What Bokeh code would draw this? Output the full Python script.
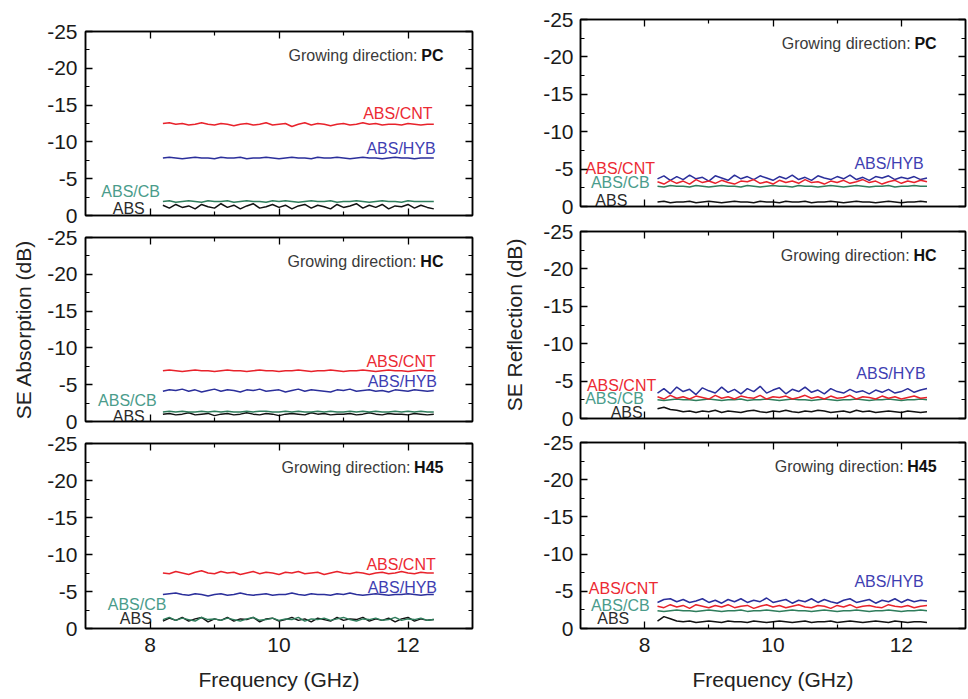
from bokeh.plotting import figure
from bokeh.layouts import row, column
from bokeh.models import Range1d, LinearAxis, FixedTicker, PrintfTickFormatter
from bokeh.core.properties import value
from bokeh.embed import file_html
from bokeh.resources import INLINE

# ---------------- data ----------------
FREQ = [8.2, 8.3, 8.4, 8.5, 8.6, 8.7, 8.8, 8.9, 9.0, 9.1,
        9.2, 9.3, 9.4, 9.5, 9.6, 9.7, 9.8, 9.9, 10.0, 10.1,
        10.2, 10.3, 10.4, 10.5, 10.6, 10.7, 10.8, 10.9, 11.0, 11.1,
        11.2, 11.3, 11.4, 11.5, 11.6, 11.7, 11.8, 11.9, 12.0, 12.1,
        12.2, 12.3, 12.4]

SERIES = ["ABS", "ABS/CB", "ABS/HYB", "ABS/CNT"]
DIRECTIONS = ["PC", "HC", "H45"]
Y_TICKS = [-25, -20, -15, -10, -5, 0]
Y_MINOR = [-22.5, -17.5, -12.5, -7.5, -2.5]
X_TICKS = [8, 10, 12]
X_MINOR = [9, 11]

# SE Absorption
A_PC_ABS = [-1.4, -1.0, -1.5, -1.1, -1.3, -0.9, -1.5, -1.2, -1.0, -1.6,
            -1.1, -1.4, -0.9, -1.3, -1.6, -1.0, -1.2, -1.5, -1.1, -1.4,
            -0.9, -1.3, -1.5, -1.0, -1.4, -1.2, -0.9, -1.5, -1.1, -1.3,
            -1.6, -1.0, -1.4, -1.1, -1.5, -0.9, -1.3, -1.2, -1.5, -1.0,
            -1.4, -1.1, -0.9]
A_PC_CB = [-1.9, -2.0, -1.8, -1.9, -2.0, -1.9, -1.8, -2.0, -1.9, -1.9,
           -2.0, -1.8, -1.9, -2.0, -1.9, -1.9, -1.8, -2.0, -1.9, -2.0,
           -1.9, -1.8, -1.9, -2.0, -1.9, -1.9, -2.0, -1.8, -1.9, -1.9,
           -2.0, -1.9, -1.8, -1.9, -2.0, -1.9, -1.9, -1.8, -2.0, -1.9,
           -1.9, -1.9, -1.9]
A_PC_HYB = [-7.8, -7.9, -7.8, -7.7, -7.8, -7.9, -7.8, -7.8, -7.7, -7.9,
            -7.8, -7.8, -7.9, -7.7, -7.8, -7.8, -7.9, -7.8, -7.7, -7.8,
            -7.9, -7.8, -7.8, -7.7, -7.9, -7.8, -7.8, -7.9, -7.8, -7.7,
            -7.8, -7.9, -7.8, -7.8, -7.7, -7.8, -7.9, -7.8, -7.8, -7.7,
            -7.8, -7.8, -7.8]
A_PC_CNT = [-12.5, -12.6, -12.4, -12.5, -12.3, -12.4, -12.6, -12.4, -12.3, -12.5,
            -12.4, -12.2, -12.4, -12.5, -12.3, -12.4, -12.6, -12.3, -12.4, -12.5,
            -12.1, -12.4, -12.6, -12.3, -12.5, -12.4, -12.2, -12.4, -12.5, -12.3,
            -12.4, -12.6, -12.4, -12.5, -12.3, -12.4, -12.4, -12.3, -12.5, -12.4,
            -12.3, -12.4, -12.4]

A_HC_ABS = [-1.0, -1.1, -0.9, -1.0, -1.2, -0.9, -1.0, -1.1, -0.8, -1.0,
            -1.1, -0.9, -1.0, -1.2, -1.0, -0.9, -1.1, -1.0, -0.8, -1.0,
            -1.1, -1.0, -0.9, -1.2, -1.0, -1.1, -0.9, -1.0, -1.0, -1.1,
            -0.9, -1.0, -1.2, -1.0, -0.9, -1.1, -1.0, -1.0, -0.9, -1.1,
            -1.0, -0.9, -1.0]
A_HC_CB = [-1.3, -1.4, -1.3, -1.4, -1.3, -1.3, -1.4, -1.3, -1.4, -1.3,
           -1.4, -1.3, -1.3, -1.4, -1.3, -1.4, -1.4, -1.3, -1.3, -1.4,
           -1.3, -1.4, -1.3, -1.3, -1.4, -1.3, -1.4, -1.3, -1.3, -1.4,
           -1.3, -1.4, -1.3, -1.4, -1.3, -1.3, -1.4, -1.3, -1.4, -1.3,
           -1.4, -1.3, -1.3]
A_HC_HYB = [-4.1, -4.3, -4.2, -4.4, -4.1, -4.3, -4.0, -4.2, -4.4, -4.1,
            -4.3, -4.2, -4.0, -4.3, -4.2, -4.4, -4.1, -4.2, -4.3, -4.0,
            -4.2, -4.4, -4.1, -4.3, -4.2, -4.1, -4.0, -4.3, -4.2, -4.4,
            -4.1, -4.2, -4.3, -4.1, -4.2, -4.0, -4.3, -4.2, -4.1, -4.3,
            -4.2, -4.1, -4.2]
A_HC_CNT = [-6.9, -7.0, -6.9, -6.8, -6.9, -7.0, -6.9, -6.9, -6.8, -6.9,
            -7.0, -6.9, -6.9, -6.8, -6.9, -7.0, -6.9, -6.9, -6.8, -6.9,
            -6.9, -7.0, -6.9, -6.8, -6.9, -6.9, -7.0, -6.9, -6.8, -6.9,
            -6.9, -7.0, -6.9, -6.8, -6.9, -7.0, -6.9, -6.9, -6.8, -6.9,
            -7.0, -6.9, -6.9]

A_H45_ABS = [-1.0, -1.4, -1.1, -1.5, -1.0, -1.3, -1.5, -0.9, -1.3, -1.1,
             -1.5, -1.0, -1.3, -1.2, -1.5, -0.9, -1.3, -1.4, -1.0, -1.2,
             -1.5, -1.1, -1.3, -0.9, -1.4, -1.2, -1.0, -1.5, -1.1, -1.3,
             -1.2, -1.5, -1.0, -1.3, -1.1, -1.4, -0.9, -1.3, -1.5, -1.0,
             -1.3, -1.1, -1.2]
A_H45_CB = [-1.2, -1.5, -1.1, -1.4, -1.2, -1.0, -1.5, -1.2, -1.3, -1.1,
            -1.4, -1.2, -1.0, -1.3, -1.5, -1.1, -1.2, -1.4, -1.1, -1.3,
            -1.2, -1.5, -1.0, -1.3, -1.2, -1.4, -1.1, -1.3, -1.5, -1.2,
            -1.0, -1.3, -1.2, -1.4, -1.1, -1.2, -1.5, -1.1, -1.3, -1.2,
            -1.4, -1.1, -1.2]
A_H45_HYB = [-4.6, -4.7, -4.8, -4.6, -4.5, -4.7, -4.6, -4.4, -4.6, -4.7,
             -4.5, -4.6, -4.8, -4.6, -4.5, -4.6, -4.7, -4.5, -4.6, -4.6,
             -4.8, -4.6, -4.5, -4.7, -4.6, -4.6, -4.5, -4.7, -4.6, -4.8,
             -4.6, -4.5, -4.6, -4.7, -4.6, -4.5, -4.6, -4.6, -4.7, -4.6,
             -4.5, -4.6, -4.6]
A_H45_CNT = [-7.5, -7.4, -7.7, -7.5, -7.3, -7.6, -7.8, -7.5, -7.4, -7.7,
             -7.5, -7.6, -7.3, -7.5, -7.7, -7.4, -7.6, -7.5, -7.3, -7.6,
             -7.5, -7.7, -7.4, -7.5, -7.6, -7.3, -7.5, -7.7, -7.5, -7.4,
             -7.6, -7.5, -7.3, -7.5, -7.6, -7.4, -7.5, -7.7, -7.5, -7.4,
             -7.6, -7.5, -7.5]

# SE Reflection
R_PC_ABS = [-0.6, -0.7, -0.5, -0.6, -0.6, -0.7, -0.5, -0.6, -0.7, -0.6,
            -0.5, -0.6, -0.7, -0.6, -0.6, -0.5, -0.7, -0.6, -0.6, -0.5,
            -0.7, -0.6, -0.6, -0.7, -0.5, -0.6, -0.6, -0.7, -0.6, -0.5,
            -0.6, -0.7, -0.6, -0.6, -0.5, -0.6, -0.7, -0.6, -0.5, -0.6,
            -0.6, -0.7, -0.6]
R_PC_CB = [-2.7, -2.6, -2.8, -2.7, -2.7, -2.6, -2.8, -2.7, -2.6, -2.7,
           -2.8, -2.7, -2.7, -2.6, -2.8, -2.7, -2.6, -2.7, -2.8, -2.7,
           -2.7, -2.6, -2.8, -2.7, -2.7, -2.6, -2.7, -2.8, -2.7, -2.6,
           -2.7, -2.8, -2.7, -2.6, -2.7, -2.7, -2.8, -2.6, -2.7, -2.7,
           -2.8, -2.7, -2.7]
R_PC_HYB = [-3.7, -4.1, -3.5, -4.0, -3.6, -4.2, -3.7, -3.9, -3.4, -4.1,
            -3.8, -3.5, -4.2, -3.7, -4.0, -3.6, -4.1, -3.8, -3.5, -4.0,
            -3.7, -4.2, -3.6, -3.9, -3.5, -4.1, -3.8, -3.6, -4.0, -3.7,
            -4.2, -3.6, -3.9, -3.5, -4.0, -3.8, -4.1, -3.6, -3.9, -3.7,
            -4.0, -3.6, -3.8]
R_PC_CNT = [-3.3, -3.0, -3.5, -3.1, -3.4, -3.0, -3.6, -3.2, -3.4, -3.1,
            -3.5, -3.2, -3.0, -3.4, -3.3, -3.6, -3.1, -3.3, -3.0, -3.5,
            -3.2, -3.4, -3.1, -3.6, -3.2, -3.3, -3.0, -3.4, -3.2, -3.5,
            -3.1, -3.3, -3.6, -3.2, -3.4, -3.0, -3.3, -3.5, -3.1, -3.4,
            -3.2, -3.5, -3.3]

R_HC_ABS = [-1.3, -1.5, -1.2, -1.1, -0.9, -1.0, -0.8, -1.0, -0.9, -1.1,
            -0.8, -1.0, -0.9, -0.8, -1.0, -1.1, -0.9, -0.8, -1.0, -0.9,
            -1.1, -0.9, -0.8, -1.0, -0.9, -1.1, -1.0, -0.8, -0.9, -1.0,
            -0.8, -1.1, -0.9, -1.0, -0.8, -0.9, -1.0, -0.9, -0.8, -1.0,
            -0.9, -0.8, -0.9]
R_HC_CB = [-2.5, -2.4, -2.5, -2.6, -2.5, -2.5, -2.4, -2.5, -2.6, -2.5,
           -2.4, -2.5, -2.5, -2.6, -2.4, -2.5, -2.5, -2.6, -2.5, -2.4,
           -2.5, -2.6, -2.5, -2.5, -2.4, -2.5, -2.6, -2.5, -2.4, -2.5,
           -2.5, -2.6, -2.5, -2.4, -2.5, -2.5, -2.6, -2.5, -2.4, -2.5,
           -2.5, -2.6, -2.5]
R_HC_HYB = [-3.4, -4.0, -3.3, -4.2, -3.6, -3.9, -3.2, -4.1, -3.7, -3.4,
            -4.2, -3.5, -3.9, -3.3, -4.0, -3.6, -4.3, -3.4, -3.8, -4.1,
            -3.3, -3.9, -3.6, -4.2, -3.5, -3.8, -3.3, -4.0, -3.6, -3.4,
            -3.9, -3.5, -3.7, -3.3, -3.8, -3.5, -3.9, -3.4, -3.6, -4.0,
            -3.5, -3.8, -4.0]
R_HC_CNT = [-2.9, -2.6, -3.1, -2.7, -2.9, -2.6, -3.0, -2.8, -2.6, -3.1,
            -2.7, -2.9, -2.6, -3.0, -2.8, -2.7, -3.1, -2.6, -2.9, -2.8,
            -3.0, -2.6, -2.8, -3.1, -2.7, -2.9, -2.6, -3.0, -2.7, -2.8,
            -3.1, -2.6, -2.9, -2.8, -2.6, -3.0, -2.7, -2.9, -2.6, -2.8,
            -3.0, -2.7, -2.8]

R_H45_ABS = [-1.0, -1.6, -1.3, -1.0, -0.9, -1.0, -0.8, -0.9, -1.0, -0.9,
             -0.8, -1.0, -0.9, -0.9, -0.8, -1.0, -0.9, -0.8, -0.9, -1.0,
             -0.9, -0.8, -0.9, -1.0, -0.8, -0.9, -0.9, -1.0, -0.8, -0.9,
             -1.0, -0.9, -0.8, -0.9, -1.0, -0.9, -0.8, -1.0, -0.9, -0.8,
             -0.9, -0.9, -0.8]
R_H45_CB = [-2.4, -2.3, -2.4, -2.5, -2.4, -2.4, -2.3, -2.4, -2.5, -2.4,
            -2.3, -2.4, -2.4, -2.5, -2.3, -2.4, -2.4, -2.5, -2.4, -2.3,
            -2.4, -2.5, -2.4, -2.4, -2.3, -2.4, -2.5, -2.4, -2.3, -2.4,
            -2.4, -2.5, -2.4, -2.3, -2.4, -2.4, -2.5, -2.4, -2.3, -2.4,
            -2.4, -2.5, -2.4]
R_H45_HYB = [-3.5, -3.9, -4.0, -3.6, -3.9, -3.5, -3.7, -4.0, -3.5, -3.8,
             -3.4, -3.9, -3.6, -4.0, -3.5, -3.8, -3.6, -4.1, -3.5, -3.7,
             -3.9, -3.4, -3.8, -3.6, -4.0, -3.5, -3.9, -3.6, -3.4, -3.8,
             -4.0, -3.5, -3.7, -3.9, -3.4, -3.8, -3.6, -4.0, -3.5, -3.9,
             -3.6, -3.8, -3.7]
R_H45_CNT = [-3.0, -2.8, -3.2, -2.9, -3.1, -2.7, -3.2, -3.0, -2.8, -3.1,
             -2.9, -3.2, -2.8, -3.0, -3.1, -2.7, -3.0, -3.2, -2.9, -3.1,
             -2.8, -3.0, -3.2, -2.9, -2.8, -3.1, -3.0, -2.7, -3.1, -2.9,
             -3.2, -2.8, -3.0, -3.1, -2.9, -2.8, -3.2, -3.0, -2.9, -3.1,
             -2.8, -3.0, -3.1]

ABSORPTION = {
    "PC": [A_PC_ABS, A_PC_CB, A_PC_HYB, A_PC_CNT],
    "HC": [A_HC_ABS, A_HC_CB, A_HC_HYB, A_HC_CNT],
    "H45": [A_H45_ABS, A_H45_CB, A_H45_HYB, A_H45_CNT],
}
REFLECTION = {
    "PC": [R_PC_ABS, R_PC_CB, R_PC_HYB, R_PC_CNT],
    "HC": [R_HC_ABS, R_HC_CB, R_HC_HYB, R_HC_CNT],
    "H45": [R_H45_ABS, R_H45_CB, R_H45_HYB, R_H45_CNT],
}

# ---------------- styles / placement ----------------
LINE_COLORS = {"ABS": "#111111", "ABS/CB": "#2f7d5c", "ABS/HYB": "#2b2f9b", "ABS/CNT": "#e8222b"}
TEXT_COLORS = {"ABS": "#2a2a2a", "ABS/CB": "#4a9c8b", "ABS/HYB": "#3e3eb2", "ABS/CNT": "#ec2a33"}
FONT = "Liberation Sans"
BOLD_W = {"PC": 22, "HC": 23, "H45": 29}

# series-label placement per panel: name -> (align, x, y)
ABS_LABELS = {
    "PC": {"ABS/CNT": ("right", 12.38, -13.9), "ABS/HYB": ("right", 12.43, -9.1),
           "ABS/CB": ("center", 7.70, -3.3), "ABS": ("center", 7.67, -0.9)},
    "HC": {"ABS/CNT": ("right", 12.43, -8.2), "ABS/HYB": ("right", 12.45, -5.5),
           "ABS/CB": ("center", 7.65, -2.9), "ABS": ("center", 7.67, -0.7)},
    "H45": {"ABS/CNT": ("right", 12.43, -8.6), "ABS/HYB": ("right", 12.45, -5.5),
            "ABS/CB": ("center", 7.80, -3.3), "ABS": ("center", 7.78, -1.4)},
}
REF_LABELS = {
    "PC": {"ABS/CNT": ("center", 7.62, -5.1), "ABS/HYB": ("right", 12.35, -5.75),
           "ABS/CB": ("center", 7.62, -3.2), "ABS": ("center", 7.48, -0.8)},
    "HC": {"ABS/CNT": ("center", 7.64, -4.4), "ABS/HYB": ("right", 12.38, -6.0),
           "ABS/CB": ("center", 7.53, -2.7), "ABS": ("center", 7.72, -0.85)},
    "H45": {"ABS/CNT": ("center", 7.67, -5.4), "ABS/HYB": ("right", 12.35, -6.3),
            "ABS/CB": ("center", 7.62, -3.1), "ABS": ("center", 7.51, -1.3)},
}


def style_axis(ax, labels=True, standoff=8):
    ax.axis_line_color = "black"
    ax.axis_line_width = 1.5
    ax.major_tick_in = 7
    ax.major_tick_out = 0
    ax.minor_tick_in = 4
    ax.minor_tick_out = 0
    ax.major_tick_line_color = "black"
    ax.minor_tick_line_color = "black"
    ax.major_tick_line_width = 1.3
    ax.minor_tick_line_width = 1.2
    ax.major_label_text_font = FONT
    ax.formatter = PrintfTickFormatter(format="%d")
    if labels:
        ax.major_label_text_color = "#1a1a1a"
        ax.major_label_text_font_size = "21px"
        ax.major_label_standoff = standoff
    else:
        ax.major_label_text_color = None
        ax.major_label_text_font_size = "0px"
        ax.major_label_standoff = 0


def make_panel(data, direction, labels, width, height, left, right, top, bottom,
               show_x, ylabel=None, ylabel_standoff=10, ytick_standoff=8):
    p = figure(width=width, height=height, title=None,
               x_range=Range1d(7, 13), y_range=Range1d(0, -25),
               output_backend="svg", toolbar_location=None,
               min_border_left=left, min_border_right=right,
               min_border_top=top, min_border_bottom=bottom,
               x_axis_type=None, y_axis_type=None)
    p.grid.visible = False
    p.outline_line_color = "black"
    p.outline_line_width = 1.5
    p.background_fill_color = "white"
    p.border_fill_color = "white"

    xb = LinearAxis(ticker=FixedTicker(ticks=X_TICKS, minor_ticks=X_MINOR))
    style_axis(xb, labels=show_x, standoff=9)
    if show_x:
        xb.axis_label = "Frequency (GHz)"
        xb.axis_label_text_font = FONT
        xb.axis_label_text_font_size = "21px"
        xb.axis_label_text_font_style = "normal"
        xb.axis_label_text_color = "#222222"
        xb.axis_label_standoff = 13
    p.add_layout(xb, "below")
    xa = LinearAxis(ticker=FixedTicker(ticks=X_TICKS, minor_ticks=X_MINOR))
    style_axis(xa, labels=False)
    p.add_layout(xa, "above")

    yl = LinearAxis(ticker=FixedTicker(ticks=Y_TICKS, minor_ticks=Y_MINOR))
    style_axis(yl, labels=True, standoff=ytick_standoff)
    if ylabel:
        yl.axis_label = ylabel
        yl.axis_label_text_font = FONT
        yl.axis_label_text_font_size = "21px"
        yl.axis_label_text_font_style = "normal"
        yl.axis_label_text_color = "#222222"
        yl.axis_label_standoff = ylabel_standoff
    p.add_layout(yl, "left")
    yr = LinearAxis(ticker=FixedTicker(ticks=Y_TICKS, minor_ticks=Y_MINOR))
    style_axis(yr, labels=False)
    p.add_layout(yr, "right")

    for name, ys in zip(SERIES, data[direction]):
        p.line(FREQ, ys, line_color=LINE_COLORS[name], line_width=1.5)

    for name in SERIES:
        align, lx, ly = labels[direction][name]
        p.text(x=[lx], y=[ly], text=[name], text_font=value(FONT),
               text_font_size=value("16px"), text_color=TEXT_COLORS[name],
               text_align=align, text_baseline="middle")

    # "Growing direction: XX"
    p.text(x=[12.55], y=[-21.8], text=[direction], text_font=value(FONT),
           text_font_size=value("16px"), text_font_style="bold",
           text_color="#111111", text_align="right", text_baseline="middle")
    p.text(x=[12.55], y=[-21.8], text=["Growing direction:"], text_font=value(FONT),
           text_font_size=value("16px"), text_color="#3a3a3a",
           text_align="right", text_baseline="middle",
           x_offset=-(BOLD_W[direction] + 4))
    return p


# left column (SE Absorption): x 0..500, frame 85..472
L1 = make_panel(ABSORPTION, "PC", ABS_LABELS, 500, 226, 85, 28, 31, 11, False)
L2 = make_panel(ABSORPTION, "HC", ABS_LABELS, 500, 206, 85, 28, 11, 11, False,
                ylabel="SE Absorption (dB)", ylabel_standoff=9)
L3 = make_panel(ABSORPTION, "H45", ABS_LABELS, 500, 267, 85, 28, 11, 71, True)

# right column (SE Reflection): x 500..968, frame 579..965
R1 = make_panel(REFLECTION, "PC", REF_LABELS, 468, 218, 79, 3, 19, 12, False,
                ytick_standoff=7)
R2 = make_panel(REFLECTION, "HC", REF_LABELS, 468, 212, 79, 3, 13, 12, False,
                ylabel="SE Reflection (dB)", ylabel_standoff=14, ytick_standoff=7)
R3 = make_panel(REFLECTION, "H45", REF_LABELS, 468, 269, 79, 3, 12, 71, True,
                ytick_standoff=7)

layout = row(column(L1, L2, L3), column(R1, R2, R3))

open("out.html", "w").write(file_html(layout, INLINE))
